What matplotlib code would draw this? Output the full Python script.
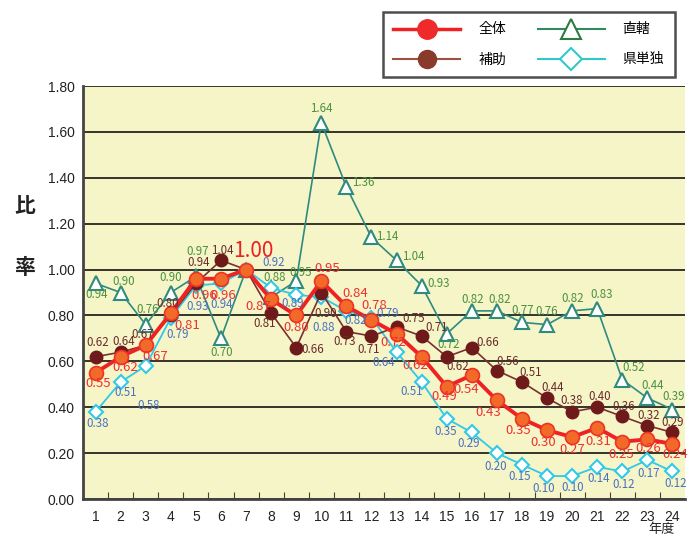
import matplotlib
matplotlib.use("Agg")
import matplotlib.pyplot as plt
from matplotlib.lines import Line2D
import numpy as np

plt.rcParams['font.family'] = ['Noto Sans CJK JP', 'DejaVu Sans']

# 年度
years = list(range(1, 25))

# series values
zentai = [0.55, 0.62, 0.67, 0.81, 0.96, 0.96, 1.00, 0.87, 0.80, 0.95, 0.84, 0.78,
          0.72, 0.62, 0.49, 0.54, 0.43, 0.35, 0.30, 0.27, 0.31, 0.25, 0.26, 0.24]
hojo = [0.62, 0.64, 0.67, 0.80, 0.94, 1.04, 1.00, 0.81, 0.66, 0.90, 0.73, 0.71,
        0.75, 0.71, 0.62, 0.66, 0.56, 0.51, 0.44, 0.38, 0.40, 0.36, 0.32, 0.29]
chokkatsu = [0.94, 0.90, 0.76, 0.90, 0.97, 0.70, 1.00, 0.88, 0.95, 1.64, 1.36, 1.14,
             1.04, 0.93, 0.72, 0.82, 0.82, 0.77, 0.76, 0.82, 0.83, 0.52, 0.44, 0.39]
kentandoku = [0.38, 0.51, 0.58, 0.79, 0.93, 0.94, 1.00, 0.92, 0.89, 0.88, 0.82, 0.79,
              0.64, 0.51, 0.35, 0.29, 0.20, 0.15, 0.10, 0.10, 0.14, 0.12, 0.17, 0.12]

# label offsets in pixels (None = no label)
off_zentai = [(3, -11), (5, -11), (10, -11), (16, -12), (8, -17), (2, -17), (7, 19),
              (-13, -7), (0, -12), (6, 13), (9, 13), (3, 15), (-3, -9), (-6, -9),
              (-2, -10), (-6, -14), (-9, -12), (-4, -12), (-4, -12), (0, -12),
              (1, -14), (-1, -13), (1, -9), (3, -11)]
off_hojo = [(2, 14), (3, 11), (-3, 11), (-3, 12), (3, 21), (1, 10), None,
            (-7, -10), (17, -2), (4, -21), (-2, -10), (-3, -13), (17, 8), (15, 9),
            (11, -10), (16, 5), (11, 9), (9, 9), (6, 11), (-1, 11), (2, 11),
            (1, 10), (1, 10), (0, 10)]
off_chokkatsu = [(1, -11), (3, 11), (2, 15), (0, 15), (2, 25), (1, -14), None,
                 (3, 20), (4, 9), (0, 14), (17, 4), (16, 1), (17, 4), (17, 2),
                 (2, -11), (1, 11), (3, 11), (1, 12), (0, 13), (0, 12), (4, 14),
                 (11, 12), (5, 13), (1, 13)]
off_kentandoku = [(2, -12), (5, -11), (3, -40), (7, -17), (2, -21), (1, -21), None,
                  (2, 25), (-4, -9), (2, -30), (9, -10), (16, 4), (-13, -10),
                  (-10, -10), (-1, -13), (-3, -11), (-1, -13), (-2, -12), (-3, -12),
                  (1, -11), (1, -12), (1, -13), (1, -13), (3, -12)]

fig = plt.figure(figsize=(6.93, 5.40), dpi=100)
ax = fig.add_axes([0.1198, 0.0759, 0.8687, 0.7648])
ax.set_facecolor('#F5F5C8')

ax.plot(years, chokkatsu, color='#2F8A80', lw=1.2, marker='^', ms=10,
        mfc='white', mec='#2F8A80', mew=1.5, zorder=3)
ax.plot(years, kentandoku, color='#33C8E8', lw=1.3, marker='D', ms=7,
        mfc='white', mec='#33C8E8', mew=1.5, zorder=4)
ax.plot(years, hojo, color='#7B3030', lw=1.2, marker='o', ms=9,
        mfc='#6E1A1A', mec='#6E1A1A', zorder=5)
ax.plot(years, zentai, color='#EE2222', lw=2.8, marker='o', ms=10,
        mfc='#F26A2A', mec='#EE3322', mew=1.2, zorder=6)

def add_labels(vals, offs, color, size):
    for x, v, o in zip(years, vals, offs):
        if o is None:
            continue
        ax.annotate(f"{v:.2f}", (x, v), xytext=o, textcoords='offset pixels',
                    ha='center', va='center', color=color, fontsize=size, zorder=7)

add_labels(chokkatsu, off_chokkatsu, '#4C9040', 8.3)
add_labels(kentandoku, off_kentandoku, '#4A70C0', 8.3)
add_labels(hojo, off_hojo, '#6B2A2A', 8.3)
zl = list(off_zentai)
zl[6] = None
add_labels(zentai, zl, '#EE3030', 9.5)
ax.annotate("1.00", (7, 1.00), xytext=off_zentai[6], textcoords='offset pixels',
            ha='center', va='center', color='#EE2020', fontsize=15, zorder=7)

ax.set_xlim(0.5, 24.5)
ax.set_ylim(0, 1.8)
ax.set_yticks(np.arange(0, 1.81, 0.2))
ax.set_yticklabels([f"{t:.2f}" for t in np.arange(0, 1.81, 0.2)],
                   fontfamily='Liberation Sans', fontsize=10, color='#222222')
ax.yaxis.grid(True, color='black', lw=1.1)
ax.set_axisbelow(True)
ax.tick_params(axis='y', length=0, pad=6)

ax.set_xticks(np.arange(1.5, 24.5, 1))
ax.set_xticklabels([])
ax.set_xticks(years, minor=True)
ax.set_xticklabels([str(y) for y in years], minor=True,
                   fontfamily='Liberation Sans', fontsize=10, color='#222222')
ax.tick_params(axis='x', which='major', direction='in', length=5, color='#444444')
ax.tick_params(axis='x', which='minor', length=0, pad=8)

for s in ['top', 'right']:
    ax.spines[s].set_visible(False)
for s in ['left', 'bottom']:
    ax.spines[s].set_color('#444444')
    ax.spines[s].set_linewidth(2)

fig.text(25 / 693, 1 - 205 / 540, "比", fontsize=15, fontweight='bold',
         ha='center', va='center', color='#222222')
fig.text(25 / 693, 1 - 268 / 540, "率", fontsize=15, fontweight='bold',
         ha='center', va='center', color='#222222')
fig.text(662 / 693, 1 - 530 / 540, "年度", fontsize=9.5,
         ha='center', va='center', color='#222222')

handles = [
    Line2D([], [], color='#EE2222', lw=2.5, marker='o', ms=14,
           mfc='#EE2A2A', mec='#EE2A2A'),
    Line2D([], [], color='#A05040', lw=1.5, marker='o', ms=13,
           mfc='#8A3A2A', mec='#8A3A2A'),
    Line2D([], [], color='#2F8A60', lw=1.5, marker='^', ms=14,
           mfc='white', mec='#2F7A40', mew=1.5),
    Line2D([], [], color='#33C8C8', lw=1.5, marker='D', ms=11,
           mfc='white', mec='#33C8C8', mew=1.5),
]
leg = fig.legend(handles, ['全体', '補助', '直轄', '県単独'], ncol=2,
                 loc='upper left', bbox_to_anchor=(383 / 693, 1 - 12 / 540),
                 borderaxespad=0, fontsize=10, handlelength=4.8, handletextpad=1.3,
                 columnspacing=2.3, labelspacing=1.15, borderpad=0.75,
                 frameon=True, fancybox=False)
leg.get_frame().set_edgecolor('#222222')
leg.get_frame().set_linewidth(1.8)

fig.savefig('out.png', dpi=100)
